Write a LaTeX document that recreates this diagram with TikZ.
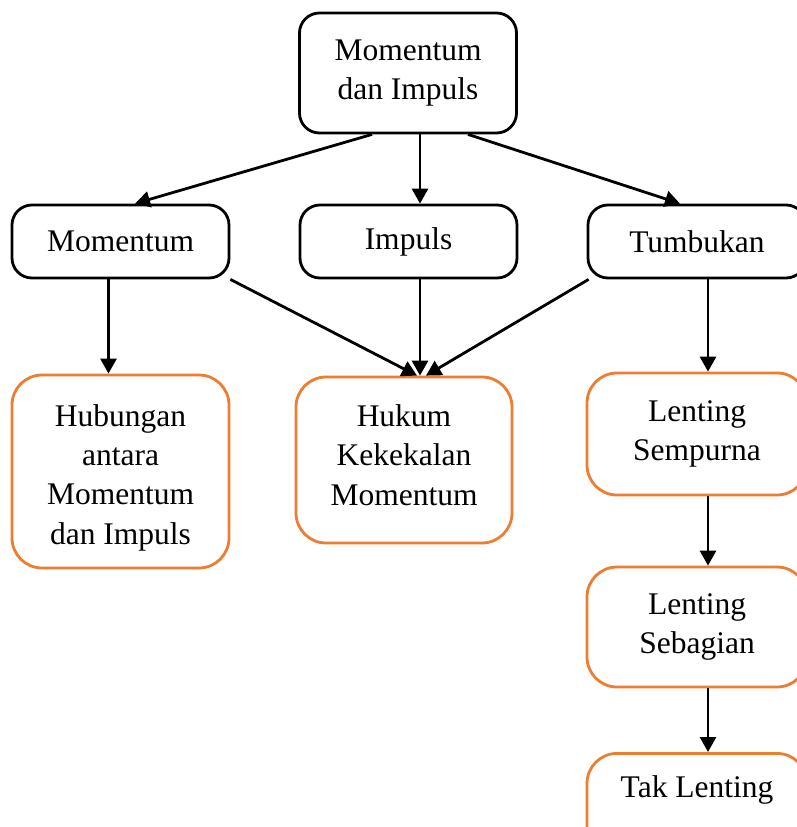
\documentclass[tikz,border=0pt]{standalone}
\usepackage{fontspec}
\setmainfont{Liberation Serif}
\usetikzlibrary{arrows.meta,calc}
\definecolor{boxorange}{HTML}{ED7D31}
\tikzset{
  base/.style={draw, line width=2.8pt, align=center, inner sep=0pt,
    font=\fontsize{31.5}{39}\selectfont, fill=white},
  blackbox/.style={base, draw=black, rounded corners=20pt},
  orangebox/.style={base, draw=boxorange, rounded corners=30pt},
  txt/.style={align=center, inner sep=0pt, font=\fontsize{31.5}{39.3}\selectfont},
  arr/.style={line width=2.8pt, -{Triangle[length=15pt,width=16pt]}}
}
\begin{document}
\begin{tikzpicture}[x=1pt,y=-1pt]
\useasboundingbox (0,0) rectangle (796,827);
\node[blackbox, minimum width=217pt, minimum height=120pt] (top) at (408,73) {Momentum\\dan Impuls};
\node[blackbox, minimum width=217pt, minimum height=73pt] (mom) at (120.5,241.5) {Momentum};
\node[blackbox, minimum width=217pt, minimum height=73pt] (imp) at (408.5,241.5) {Impuls};
\node[blackbox, minimum width=218pt, minimum height=73pt] (tum) at (697,241.5) {Tumbukan};
\node[orangebox, minimum width=217pt, minimum height=193pt] (hub) at (120.5,471.5) {};
\node[txt] (hubtxt) at (120.5,477.5) {Hubungan\\antara\\Momentum\\dan Impuls};
\node[orangebox, minimum width=216pt, minimum height=166pt] (huk) at (404,460) {};
\node[txt] (huktxt) at (404,455) {Hukum\\Kekekalan\\Momentum};
\node[orangebox, minimum width=220pt, minimum height=122pt] (ls) at (697,434) {Lenting\\Sempurna};
\node[orangebox, minimum width=220pt, minimum height=120pt] (lsb) at (697,627) {Lenting\\Sebagian};
\node[orangebox, minimum width=220pt, anchor=north, text height=32pt, text depth=70pt, inner ysep=12pt] (tak) at (697,752) {Tak Lenting};
\draw[arr] ([xshift=-36pt]top.south) -- ([xshift=14.5pt]mom.north);
\draw[arr] ([xshift=12pt]top.south) -- ([xshift=11.5pt]imp.north);
\draw[arr] ([xshift=60pt]top.south) -- ([xshift=-17pt]tum.north);
\draw[arr] ([xshift=-12pt]mom.south) -- ([xshift=-12pt]hub.north);
\draw[arr] (mom.south east) -- ([xshift=13pt]huk.north);
\draw[arr] ([xshift=11.5pt]imp.south) -- ([xshift=16pt]huk.north);
\draw[arr] ([xshift=2pt]tum.south west) -- ([xshift=22pt]huk.north);
\draw[arr] ([xshift=11pt]tum.south) -- ([xshift=11pt]ls.north);
\draw[arr] ([xshift=11pt]ls.south) -- ([xshift=11pt]lsb.north);
\draw[arr] ([xshift=11pt]lsb.south) -- ([xshift=11pt]tak.north);
\end{tikzpicture}
\end{document}
